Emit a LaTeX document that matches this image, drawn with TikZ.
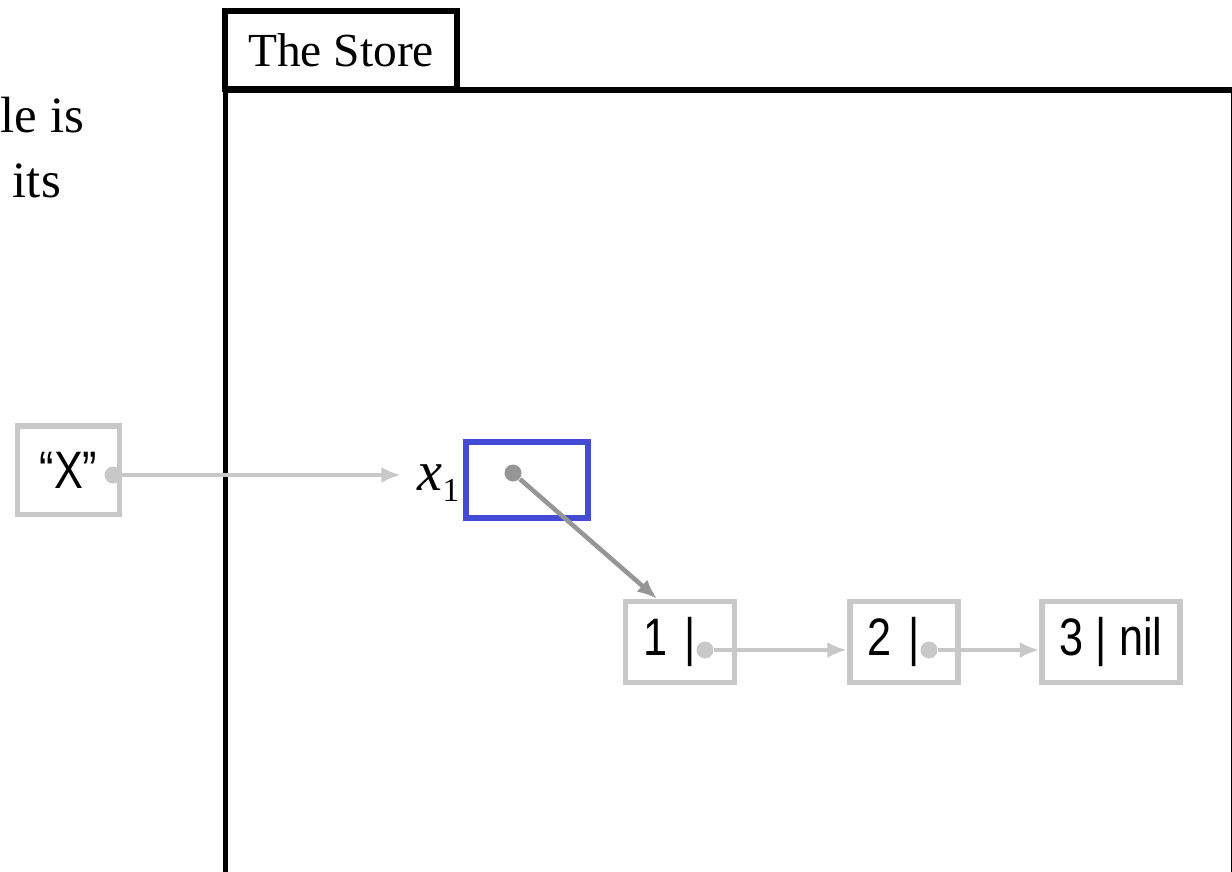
\documentclass[tikz,border=0pt]{standalone}
\usepackage{fontspec}
\setmainfont{Liberation Serif}
\setsansfont[FakeStretch=0.82]{Liberation Sans}
\usetikzlibrary{arrows.meta}

\definecolor{boxgray}{RGB}{200,200,200}
\definecolor{ptrgray}{RGB}{150,150,150}
\definecolor{varblue}{RGB}{68,75,214}

\begin{document}
\begin{tikzpicture}[>={Latex[length=5.6pt,width=4.6pt]},
  cell/.style={draw=boxgray, line width=1.6pt, inner sep=0, minimum height=0.81cm,
    font=\sffamily\fontsize{15}{17}\selectfont},
  ptrdot/.style={circle, fill=boxgray, inner sep=0, minimum size=0.17cm},
  link/.style={->, boxgray, line width=1.3pt},
  words/.style={inner sep=0, anchor=base west, font=\fontsize{14.5}{17}\selectfont}]
  \useasboundingbox (0,0) rectangle (12.32,8.71);
  % the store
  \draw [line width=1.7pt] (2.255,-0.2) |- (12.34,7.81) -- (12.34,-0.2);
  \node (tab) at (3.41,8.21) [draw, line width=1.7pt, inner sep=0, minimum width=2.32cm,
    minimum height=0.775cm, font=\fontsize{13.5}{16}\selectfont] {The Store};
  \node (line1) at (0,7.38) [words] {le is};
  \node (line2) at (0.12,6.73) [words] {its};
  % variable
  \node (key) at (0.685,4.0075) [cell, minimum width=1.02cm, minimum height=0.885cm] {“X”};
  \node (kdot) at (1.13,3.96) [ptrdot] {};
  \node (var) at (5.27,3.91) [draw=varblue, line width=1.6pt, inner sep=0,
    minimum width=1.22cm, minimum height=0.76cm] {};
  \node (lbl) at (4.60,3.81) [anchor=base east, inner sep=0]
    {{\fontsize{16}{16}\selectfont\itshape x}{\fontsize{9.5}{10}\selectfont\raisebox{-3.4pt}{1}}};
  \node (vdot) at (5.13,3.98) [ptrdot, fill=ptrgray] {};
  \draw [link] (kdot) -- (kdot -| lbl.west) [shorten >=0.16cm];
  % list cells
  \node (c1) at (6.80,2.29) [cell, minimum width=1.09cm, text width=0.74cm, align=left] {1 |};
  \node (c2) at (9.04,2.29) [cell, minimum width=1.085cm, text width=0.74cm, align=left] {2 |};
  \node (c3) at (11.11,2.29) [cell, minimum width=1.375cm] {3 | nil};
  \node (d1) at (7.05,2.21) [ptrdot] {};
  \node (d2) at (9.29,2.21) [ptrdot] {};
  \draw [link, ptrgray] (vdot) -- ([xshift=-2.3mm]c1.north);
  \draw [link] (d1) -- (d1 -| c2.west);
  \draw [link] (d2) -- (d2 -| c3.west);
\end{tikzpicture}
\end{document}
